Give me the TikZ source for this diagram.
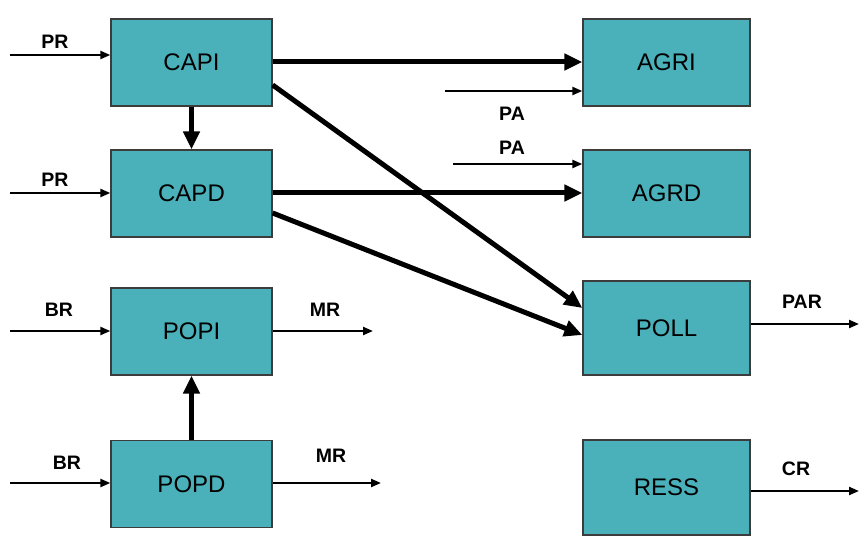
\documentclass[tikz,border=0pt]{standalone}
\usepackage{fontspec}
\setmainfont{Liberation Sans}
\usetikzlibrary{arrows.meta}
\definecolor{boxfill}{RGB}{74,176,186}
\definecolor{boxline}{RGB}{60,60,60}
\begin{document}
\begin{tikzpicture}[x=1pt,y=-1pt,
  blk/.style={draw=boxline,line width=1.3pt,fill=boxfill,minimum width=161pt,minimum height=87pt,inner sep=0pt,font=\fontsize{24}{27}\selectfont},
  thin/.style={line width=2.2pt,-{Triangle[length=10pt,width=8pt]}},
  thk/.style={line width=5pt,-{Triangle[length=18pt,width=16pt]}},
  lab/.style={font=\fontsize{19.5}{22}\selectfont\bfseries,inner sep=0pt}]
\useasboundingbox (0,0) rectangle (864,545);
\fill[white] (0,0) rectangle (864,545);
\node[blk] (capi) at (191.5,62.5) {CAPI};
\node[blk] (capd) at (191.5,193.5) {CAPD};
\node[blk] (popi) at (191.5,331.5) {POPI};
\node[blk] (popd) at (191.5,484) {POPD};
\node[blk,minimum width=167pt] (agri) at (666.5,62.5) {AGRI};
\node[blk,minimum width=167pt] (agrd) at (666.5,193.5) {AGRD};
\node[blk,minimum width=167pt,minimum height=94pt] (poll) at (666.5,328) {POLL};
\node[blk,minimum width=167pt,minimum height=95pt] (ress) at (666.5,487.5) {RESS};
% inputs
\coordinate (pr1) at (10,55);
\coordinate (pr2) at (10,193);
\coordinate (br1) at (10,331);
\coordinate (br2) at (10,483);
\coordinate (pa1) at (445,91);
\coordinate (pa2) at (453,164);
\coordinate (mr1) at (373,331);
\coordinate (mr2) at (381,483);
\coordinate (par) at (859,324);
\coordinate (cr) at (859,491);
\draw[thin] (pr1) -- (pr1 -| capi.west);
\draw[thin] (pr2) -- (pr2 -| capd.west);
\draw[thin] (br1) -- (br1 -| popi.west);
\draw[thin] (br2) -- (br2 -| popd.west);
\draw[thin] (pa1) -- (pa1 -| agri.west);
\draw[thin] (pa2) -- (pa2 -| agrd.west);
\draw[thin] (mr1 -| popi.east) -- (mr1);
\draw[thin] (mr2 -| popd.east) -- (mr2);
\draw[thin] (par -| poll.east) -- (par);
\draw[thin] (cr -| ress.east) -- (cr);
\node[lab] (lpr1) at (55,42) {PR};
\node[lab] (lpr2) at (55,180) {PR};
\node[lab] (lbr1) at (59,310) {BR};
\node[lab] (lbr2) at (67,463) {BR};
\node[lab] (lpa1) at (512,114) {PA};
\node[lab] (lpa2) at (512,148) {PA};
\node[lab] (lmr1) at (325,310) {MR};
\node[lab] (lmr2) at (331,456) {MR};
\node[lab] (lpar) at (802,302) {PAR};
\node[lab] (lcr) at (796,469) {CR};
% thick connectors
\draw[thk] (capi.east |- 0,62) -- (agri.west |- 0,62);
\draw[thk] (capd.east |- 0,193) -- (agrd.west |- 0,193);
\draw[thk] (capi.south) -- (capd.north);
\draw[thk] (popd.north) -- (popi.south);
\draw[thk] (capi.east |- 0,85) -- (poll.west |- 0,308);
\draw[thk] (capd.east |- 0,213) -- (poll.west |- 0,335);
\end{tikzpicture}
\end{document}
